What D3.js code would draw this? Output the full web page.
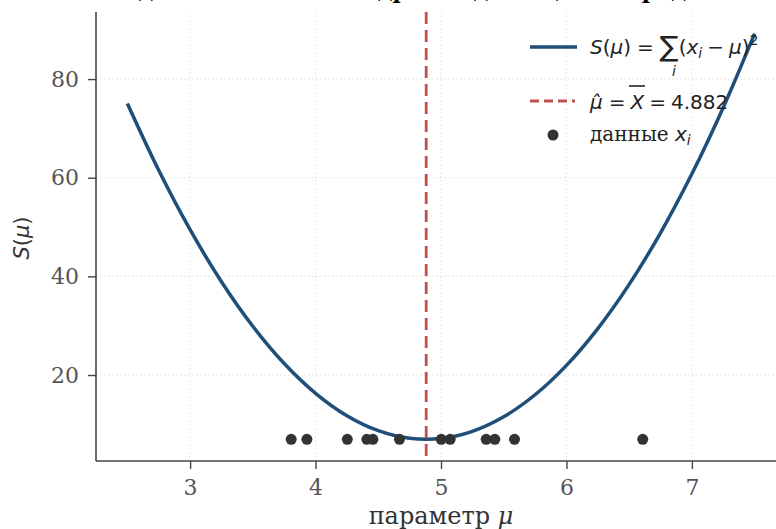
<!DOCTYPE html>
<html>
<head>
<meta charset="utf-8">
<script src="https://cdn.jsdelivr.net/npm/d3@7"></script>
<style>
  body { margin: 0; background: #fff; }
  svg { display: block; }
  .tick text { font-family: 'DejaVu Serif', serif; font-size: 22px; fill: #555; }
</style>
</head>
<body>
<svg id="chart" width="776" height="529"></svg>
<script>
// observations x_i
const dataX = [3.806, 3.931, 4.253, 4.409, 4.457, 4.669, 5.002, 5.073, 5.360, 5.429, 5.586, 6.608];
// level at which the points are drawn (min of S)
const dotLevel = 6.96;
// S(mu)
const muGrid = [2.5, 2.75, 3.0, 3.25, 3.5, 3.75, 4.0, 4.25, 4.5, 4.75, 5.0,
  5.25, 5.5, 5.75, 6.0, 6.25, 6.5, 6.75, 7.0, 7.25, 7.5];
const sValues = [75.05, 61.5, 49.46, 38.92, 29.88, 22.34, 16.3, 11.75, 8.71, 7.17, 7.13,
  8.59, 11.54, 16.0, 21.96, 29.42, 38.38, 48.83, 60.79, 74.25, 89.21];
const muHat = 4.882;
const xTicks = [3, 4, 5, 6, 7];
const yTicks = [20, 40, 60, 80];

const svg = d3.select('#chart');
const mLeft = 96, mRight = 786, mTop = 12, mBottom = 461;

const x = d3.scaleLinear().domain([2.25, 7.75]).range([mLeft, mRight]);
const y = d3.scaleLinear().domain([2.57, 93.6]).range([mBottom, mTop]);

// title (cut off at the top of the figure)
svg.append('text')
  .attr('x', 408).attr('y', -2.5)
  .attr('text-anchor', 'middle')
  .attr('font-family', 'DejaVu Serif, serif')
  .attr('font-weight', 'bold')
  .attr('font-size', 22)
  .text('Метод наименьших квадратов для оценки среднего');

// grid
const grid = svg.append('g').attr('stroke', '#ddd').attr('stroke-width', 0.9).attr('stroke-dasharray', '1.5,2.5');
grid.selectAll('.gx').data(xTicks).join('line')
  .attr('x1', (d) => x(d)).attr('x2', (d) => x(d)).attr('y1', mTop).attr('y2', mBottom);
grid.selectAll('.gy').data(yTicks).join('line')
  .attr('x1', mLeft).attr('x2', mRight).attr('y1', (d) => y(d)).attr('y2', (d) => y(d));

// curve
const line = d3.line().x((d, i) => x(muGrid[i])).y((d) => y(d)).curve(d3.curveCatmullRom);
svg.append('path')
  .datum(sValues)
  .attr('d', line)
  .attr('fill', 'none')
  .attr('stroke', '#1f4e79')
  .attr('stroke-width', 3.5);

// mu hat
svg.append('line')
  .attr('x1', x(muHat)).attr('x2', x(muHat))
  .attr('y1', mTop).attr('y2', mBottom)
  .attr('stroke', '#c0504d')
  .attr('stroke-width', 2.8)
  .attr('stroke-dasharray', '12,6');

// data points
svg.selectAll('.pt').data(dataX).join('circle')
  .attr('cx', (d) => x(d))
  .attr('cy', y(dotLevel))
  .attr('r', 5.5)
  .attr('fill', '#333');

// axes
const xAxis = svg.append('g').attr('transform', `translate(0,${mBottom})`)
  .call(d3.axisBottom(x).tickValues(xTicks).tickSize(8).tickPadding(10).tickFormat(d3.format('d')));
const yAxis = svg.append('g').attr('transform', `translate(${mLeft},0)`)
  .call(d3.axisLeft(y).tickValues(yTicks).tickSize(8).tickPadding(9).tickFormat(d3.format('d')));
[xAxis, yAxis].forEach((g) => {
  g.select('.domain').attr('stroke', '#444').attr('stroke-width', 1.6);
  g.selectAll('.tick line').attr('stroke', '#444').attr('stroke-width', 1.4);
});
yAxis.select('.domain').attr('d', `M0,${mTop}V${mBottom}`);
xAxis.select('.domain').attr('d', `M${mLeft},0H${mRight}`);

// axis labels
const xl = svg.append('text')
  .attr('x', 441).attr('y', 524)
  .attr('text-anchor', 'middle')
  .attr('font-family', 'DejaVu Serif, serif')
  .attr('font-size', 24)
  .attr('fill', '#333');
xl.append('tspan').text('параметр ');
xl.append('tspan').attr('font-style', 'italic').text('μ');

svg.append('text')
  .attr('transform', 'translate(29,238) rotate(-90)')
  .attr('text-anchor', 'middle')
  .attr('font-family', 'DejaVu Sans, sans-serif')
  .attr('font-size', 21)
  .attr('fill', '#333')
  .html('<tspan font-style="italic">S</tspan>(<tspan font-style="italic">μ</tspan>)');

// legend
const lg = svg.append('g').attr('font-family', 'DejaVu Sans, sans-serif').attr('font-size', 20).attr('fill', '#222');
lg.append('line').attr('x1', 530).attr('x2', 577).attr('y1', 47).attr('y2', 47)
  .attr('stroke', '#1f4e79').attr('stroke-width', 3.5);
lg.append('text').attr('x', 590).attr('y', 54)
  .html('<tspan font-style="italic">S</tspan>(<tspan font-style="italic">μ</tspan>)<tspan dx="6">=</tspan>' +
    '<tspan font-size="28" dy="2" dx="6">∑</tspan><tspan dy="-2">(</tspan><tspan font-style="italic">x</tspan>' +
    '<tspan font-style="italic" font-size="14" dy="4">i</tspan><tspan dy="-4" dx="5">−</tspan>' +
    '<tspan font-style="italic" dx="5">μ</tspan>)<tspan font-size="14" dy="-9">2</tspan>');
lg.append('text').attr('x', 672).attr('y', 76).attr('font-size', 14).attr('font-style', 'italic').text('i');

lg.append('line').attr('x1', 530).attr('x2', 575).attr('y1', 101).attr('y2', 101)
  .attr('stroke', '#c0504d').attr('stroke-width', 2.8).attr('stroke-dasharray', '9,5');
lg.append('text').attr('x', 590).attr('y', 109)
  .html('<tspan font-style="italic">μ̂</tspan><tspan dx="6">=</tspan>' +
    '<tspan font-style="italic" dx="5">X</tspan><tspan dx="5">=</tspan><tspan dx="5">4.882</tspan>');
lg.append('line').attr('x1', 629).attr('x2', 645).attr('y1', 86).attr('y2', 86).attr('stroke', '#222').attr('stroke-width', 1.6);

lg.append('circle').attr('cx', 553).attr('cy', 135).attr('r', 5.5).attr('fill', '#333');
lg.append('text').attr('x', 590).attr('y', 141).attr('font-family', 'DejaVu Serif, serif')
  .html('данные <tspan font-family="DejaVu Sans, sans-serif" font-style="italic">x</tspan>' +
    '<tspan font-family="DejaVu Sans, sans-serif" font-style="italic" font-size="14" dy="4">i</tspan>');
</script>
</body>
</html>
